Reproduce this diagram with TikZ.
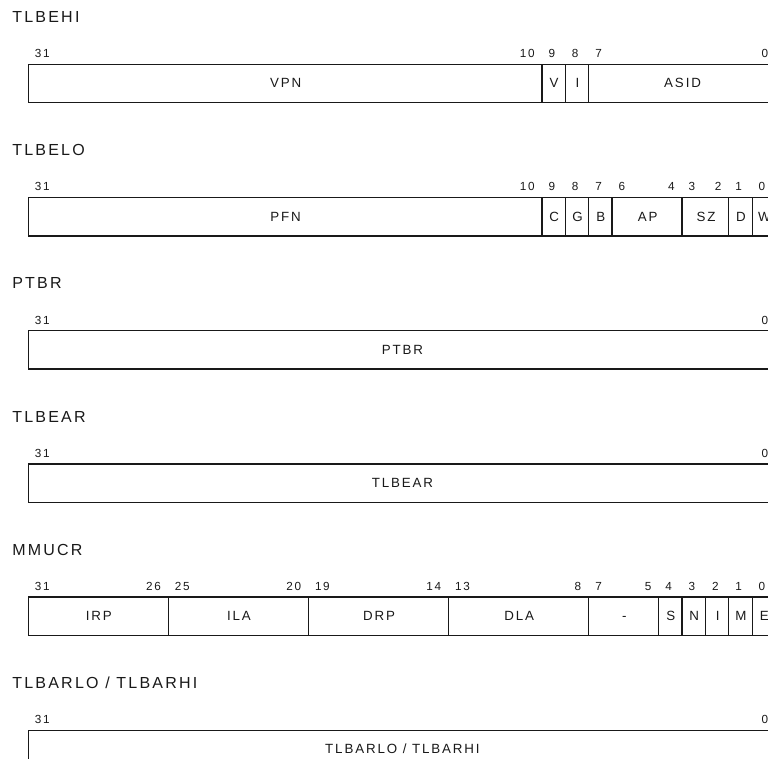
\documentclass[tikz,border=0pt]{standalone}
\usepackage{fontspec}
\setmainfont{Liberation Sans}[LetterSpace=14]
\tikzset{
  regline/.style={draw=black!90, line width=0.95pt},
  fieldtext/.style={anchor=base, inner sep=0pt, font=\fontsize{10}{12}\selectfont, text=black!90},
  bitnum/.style={inner sep=0pt, font=\fontsize{8.8}{10}\selectfont, text=black!90},
  regtitle/.style={anchor=base west, inner sep=0pt, font=\fontsize{12}{14}\selectfont, text=black!90},
}
% #1 row, #2 high bit, #3 low bit, #4 text, #5 name
\newcommand\regfield[5]{%
  \pgfmathsetmacro\rfxl{28.3+(31-#2)*23.35}%
  \pgfmathsetmacro\rfxr{28.3+(32-#3)*23.35}%
  \pgfmathsetmacro\rfyt{64.3+#1*133.2}%
  \pgfmathsetmacro\rfyb{\rfyt+38.4}%
  \pgfmathsetmacro\rfnb{57.7+#1*133.2}%
  \pgfmathsetmacro\rftb{87.9+#1*133.2}%
  \draw[regline] (\rfxl,\rfyt) rectangle (\rfxr,\rfyb);
  \node[fieldtext] (#5) at ({(\rfxl+\rfxr)/2+0.5},\rftb) {#4};
  \node[bitnum, anchor=base west] (#5h) at (\rfxl+6.3,\rfnb) {#2};
  \ifnum#2=#3\relax\else
    \node[bitnum, anchor=base east] (#5l) at (\rfxr-7.2,\rfnb) {#3};
  \fi
}
\newcommand\regtitle[3]{%
  \pgfmathsetmacro\rtyb{22.8+#1*133.1}%
  \node[regtitle] (#3) at (12,\rtyb) {#2};
}
\begin{document}
\begin{tikzpicture}[x=0.75pt,y=-0.75pt]
\useasboundingbox (0,0) rectangle (768,759);
\clip (0,0) rectangle (768,759);
\regtitle{0}{TLBEHI}{t0}
\regfield{0}{31}{10}{VPN}{vpn}
\regfield{0}{9}{9}{V}{v}
\regfield{0}{8}{8}{I}{ihi}
\regfield{0}{7}{0}{ASID}{asid}

\regtitle{1}{TLBELO}{t1}
\regfield{1}{31}{10}{PFN}{pfn}
\regfield{1}{9}{9}{C}{c}
\regfield{1}{8}{8}{G}{g}
\regfield{1}{7}{7}{B}{b}
\regfield{1}{6}{4}{AP}{ap}
\regfield{1}{3}{2}{SZ}{sz}
\regfield{1}{1}{1}{D}{d}
\regfield{1}{0}{0}{W}{w}

\regtitle{2}{PTBR}{t2}
\regfield{2}{31}{0}{PTBR}{ptbr}

\regtitle{3}{TLBEAR}{t3}
\regfield{3}{31}{0}{TLBEAR}{tlbear}

\regtitle{4}{MMUCR}{t4}
\regfield{4}{31}{26}{IRP}{irp}
\regfield{4}{25}{20}{ILA}{ila}
\regfield{4}{19}{14}{DRP}{drp}
\regfield{4}{13}{8}{DLA}{dla}
\regfield{4}{7}{5}{-}{dash}
\regfield{4}{4}{4}{S}{s}
\regfield{4}{3}{3}{N}{n}
\regfield{4}{2}{2}{I}{immu}
\regfield{4}{1}{1}{M}{m}
\regfield{4}{0}{0}{E}{e}

\regtitle{5}{TLBARLO / TLBARHI}{t5}
\regfield{5}{31}{0}{TLBARLO / TLBARHI}{tlbar}
\end{tikzpicture}
\end{document}
